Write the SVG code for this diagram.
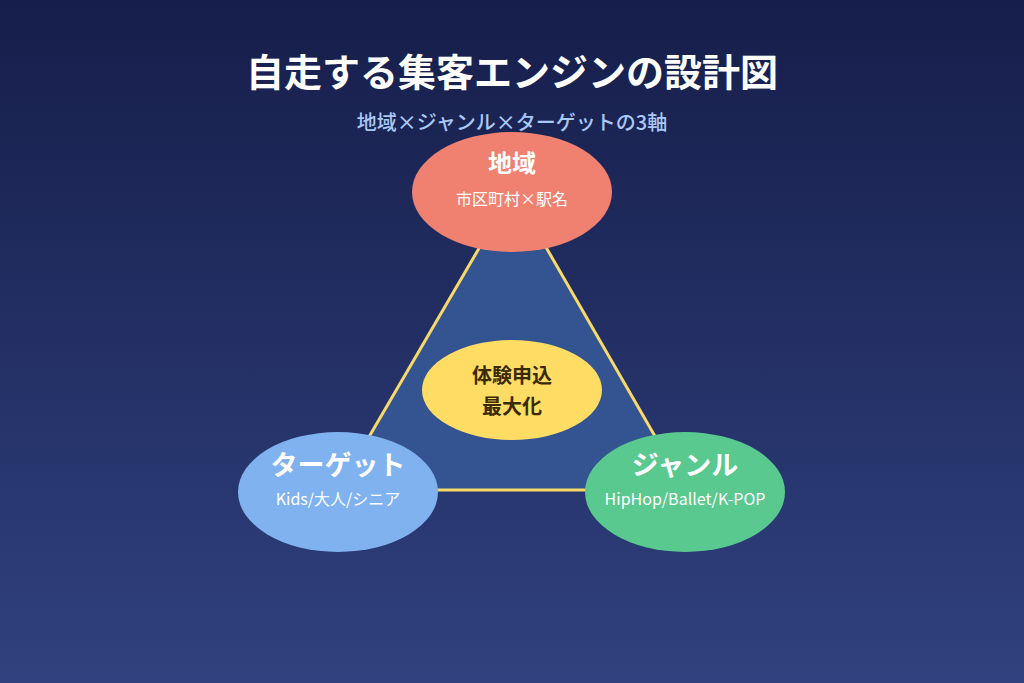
<svg xmlns="http://www.w3.org/2000/svg" width="1024" height="683" viewBox="0 0 1024 683">
<defs>
<linearGradient id="bg" x1="0" y1="0" x2="0" y2="1"><stop offset="0" stop-color="#161e4a"/><stop offset="1" stop-color="#30417f"/></linearGradient>
<style>
text{font-family:"Noto Sans CJK JP","Noto Sans",sans-serif;text-anchor:middle}
.h{font-weight:700;fill:#fff}
.s{fill:#fff;font-size:16px}
</style>
</defs>
<rect width="1024" height="683" fill="url(#bg)"/>
<text x="512" y="86" class="h" font-size="38">自走する集客エンジンの設計図</text>
<text x="512" y="130" font-size="20" fill="#a9c8f5" font-weight="500">地域×ジャンル×ターゲットの3軸</text>
<g id="connectors"><polygon points="513,190 338,490 686,490" fill="#335490" stroke="#f7d96a" stroke-width="3"/></g>
<g id="center"><ellipse cx="512" cy="390" rx="90" ry="50" fill="#ffdc64"/>
<text x="512" y="383" font-size="20" font-weight="700" fill="#3a2a00">体験申込</text>
<text x="512" y="414" font-size="20" font-weight="700" fill="#3a2a00">最大化</text></g>
<g id="region"><ellipse cx="512" cy="192" rx="100" ry="60" fill="#f08170"/>
<text x="512" y="172" class="h" font-size="24">地域</text><text x="512" y="205" class="s">市区町村×駅名</text></g>
<g id="target"><ellipse cx="338" cy="492" rx="100" ry="60" fill="#7fb2ef"/>
<text x="338" y="475" class="h" font-size="27">ターゲット</text><text x="338" y="505" class="s" font-size="17">Kids/大人/シニア</text></g>
<g id="genre"><ellipse cx="685" cy="492" rx="100" ry="60" fill="#59c98f"/>
<text x="685" y="475" class="h" font-size="27">ジャンル</text><text x="685" y="505" class="s" font-size="17">HipHop/Ballet/K-POP</text></g>
</svg>
